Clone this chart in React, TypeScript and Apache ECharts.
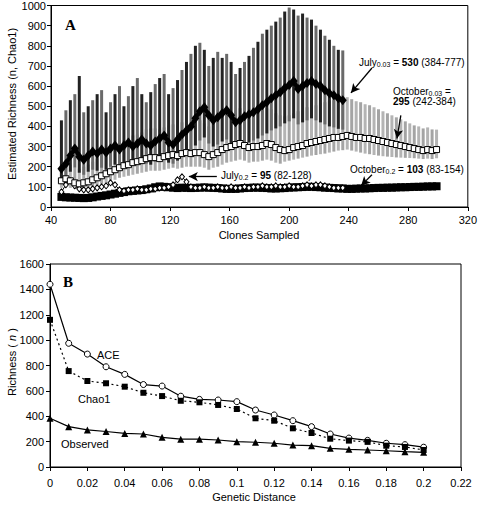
import React, { useEffect, useRef } from 'react';
import * as echarts from 'echarts';

const F = 'Liberation Sans';

// ---------- Panel A : rarefaction (Chao1) ----------
const julyX = [47,50,53,56,59,62,65,68,71,74,77,80,83,86,89,92,95,98,101,104,107,110,113,116,119,122,125,128,131,134,137,140,143,146,149,152,155,158,161,164,167,170,173,176,179,182,185,188,191,194,197,200,203,206,209,212,215,218,221,224,227,230,233,236];
const july03Mean = [190,215,255,290,250,235,255,275,265,285,270,290,305,285,305,320,300,315,335,315,305,325,340,355,320,310,335,360,380,400,440,475,495,455,430,445,465,480,455,420,430,450,460,470,485,505,520,540,555,570,590,605,625,585,600,615,625,610,600,580,565,555,540,530];
const july03High = [430,480,530,560,650,470,500,530,560,580,470,520,560,600,500,550,600,640,560,520,570,610,640,660,560,590,630,680,720,760,800,815,780,700,740,770,740,760,720,660,690,720,750,790,820,860,880,900,920,940,970,990,980,950,960,940,930,900,880,850,830,800,780,777];
const july03Low = [130,145,175,195,170,160,175,185,180,195,185,200,210,195,210,220,205,215,230,215,210,225,235,245,220,215,230,250,265,280,305,330,345,315,300,310,325,335,315,290,300,315,320,330,340,355,365,380,390,400,415,425,440,410,420,430,440,430,420,410,400,395,388,384];
const july02Mean = [75,110,130,105,90,85,85,90,95,100,105,120,110,85,80,85,85,90,85,85,90,90,95,95,100,110,135,150,125,100,95,95,100,95,95,100,95,95,100,95,95,100,95,100,100,105,100,100,105,100,100,105,100,100,105,110,105,110,110,105,100,95,95,95];

const octX = [47,50,53,56,59,62,65,68,71,74,77,80,83,86,89,92,95,98,101,104,107,110,113,116,119,122,125,128,131,134,137,140,143,146,149,152,155,158,161,164,167,170,173,176,179,182,185,188,191,194,197,200,203,206,209,212,215,218,221,224,227,230,233,236,239,242,245,248,251,254,257,260,263,266,269,272,275,278,281,284,287,290,293,296,299];
const oct03Mean = [130,140,130,120,115,120,125,135,145,155,165,175,185,195,205,210,220,225,230,240,245,245,240,250,255,260,255,265,270,265,270,270,260,250,260,270,285,295,300,310,315,305,295,300,300,305,315,310,295,285,280,285,295,300,305,315,320,325,330,335,340,345,345,350,355,350,345,345,340,340,335,330,325,320,315,310,305,300,295,290,285,280,285,280,285];
const oct03High = [200,215,210,195,190,200,210,225,240,255,270,285,300,315,330,340,355,360,370,385,390,390,385,395,405,410,405,420,425,420,425,430,415,400,415,430,450,460,470,480,490,480,465,470,470,480,490,485,465,455,450,455,465,475,480,495,500,505,515,520,525,530,535,540,545,535,525,520,510,505,495,485,475,465,455,445,435,425,415,405,400,390,395,385,384];
const oct03Low = [95,100,95,90,85,90,95,100,105,115,120,130,135,145,150,155,160,165,170,175,180,180,180,185,190,195,190,195,200,200,200,200,195,185,195,200,210,220,225,230,235,230,220,225,225,230,235,230,220,215,225,230,235,240,245,250,255,258,262,265,270,275,280,282,285,280,275,270,265,262,258,255,252,250,248,246,245,244,243,242,240,238,240,238,242];
const oct02Mean = [50,48,47,46,45,44,45,48,52,55,58,62,66,70,74,78,80,82,84,88,92,98,102,100,98,96,94,96,95,94,95,96,97,96,95,94,92,90,90,90,92,94,95,96,96,95,94,92,92,93,94,96,97,98,99,100,100,99,98,96,95,94,92,92,90,90,91,92,92,93,94,95,95,96,96,97,98,98,99,100,100,101,102,102,103];

// ---------- Panel B : richness vs genetic distance ----------
const distances = [0,0.01,0.02,0.03,0.04,0.05,0.06,0.07,0.08,0.09,0.1,0.11,0.12,0.13,0.14,0.15,0.16,0.17,0.18,0.19,0.2];
const aceValues = [1440,975,890,790,730,650,638,558,533,528,515,449,410,365,318,260,228,210,187,176,156];
const chao1Values = [1160,756,678,660,633,585,559,522,510,489,457,384,365,305,268,223,208,198,168,158,134];
const observedValues = [384,318,292,280,265,260,234,219,219,213,200,195,187,173,168,147,139,134,128,121,116];

const zip = (xs: number[], ...cols: number[][]) => xs.map((x, i) => [x, ...cols.map(c => c[i])]);

const errorBar = (colors: string[], width: number) => (p: any, api: any) => {
  const x = api.value(0);
  const lo = api.coord([x, api.value(1)]);
  const hi = api.coord([x, api.value(2)]);
  return {
    type: 'line',
    shape: { x1: lo[0], y1: lo[1], x2: hi[0], y2: hi[1] },
    style: { stroke: colors[p.dataIndex % colors.length], lineWidth: width },
  };
};

const axisCommon = {
  axisLine: { show: true, onZero: false, lineStyle: { color: '#000', width: 1 } },
  axisTick: { show: true, inside: false, length: 4, lineStyle: { color: '#000' } },
  splitLine: { show: false },
};

const plain = (v: number) => String(Math.round(v * 1000) / 1000);

const rich = {
  n: { fontSize: 10, fontFamily: F, color: '#000' },
  s: { fontSize: 7, fontFamily: F, color: '#000', verticalAlign: 'bottom', padding: [4, 0, 0, 0] },
  b: { fontSize: 10, fontFamily: F, fontWeight: 'bold', color: '#000' },
};

const txt = (x: number, y: number, text: string, extra: any = {}) => ({
  type: 'text',
  x,
  y,
  z: 100,
  style: { text, rich, fill: '#000', fontFamily: F, fontSize: 10, textVerticalAlign: 'middle', ...extra },
});

const plainTxt = (x: number, y: number, text: string, extra: any = {}) => ({
  type: 'text',
  x,
  y,
  z: 100,
  style: { text, fill: '#000', fontFamily: F, fontSize: 11, textVerticalAlign: 'middle', ...extra },
});

export default function App() {
  const ref = useRef<HTMLDivElement>(null);
  useEffect(() => {
    const chart = echarts.init(ref.current!, null, { renderer: 'svg' });
    const arrow = (a: number[], b: number[]) => [
      { coord: a, symbol: 'none' },
      { coord: b, symbol: 'arrow' },
    ];
    const lbl = (margin: number) => ({ color: '#000', fontSize: 11, fontFamily: F, margin, formatter: plain });
    const option: any = {
      animation: false,
      backgroundColor: '#fff',
      textStyle: { fontFamily: F },
      grid: [
        { left: 51, top: 4, width: 421, height: 203, show: true, borderColor: '#000', borderWidth: 1, backgroundColor: 'transparent' },
        { left: 50, top: 264, width: 411, height: 203, show: true, borderColor: '#000', borderWidth: 1, backgroundColor: 'transparent' },
      ],
      xAxis: [
        { ...axisCommon, gridIndex: 0, type: 'value', min: 40, max: 320, interval: 40, axisLabel: lbl(7) },
        { ...axisCommon, gridIndex: 1, type: 'value', min: 0, max: 0.22, interval: 0.02, axisLabel: lbl(10) },
      ],
      yAxis: [
        { ...axisCommon, gridIndex: 0, type: 'value', min: 0, max: 1000, interval: 100, axisLabel: lbl(5) },
        { ...axisCommon, gridIndex: 1, type: 'value', min: 0, max: 1600, interval: 200, axisLabel: lbl(6) },
      ],
      series: [
        {
          name: 'October 0.03 CI', type: 'custom', xAxisIndex: 0, yAxisIndex: 0, z: 1,
          renderItem: errorBar(['#b4b4b4', '#a4a4a4'], 3),
          data: zip(octX, oct03Low, oct03High),
          encode: { x: 0, y: [1, 2] },
        },
        {
          name: 'July 0.03 CI', type: 'custom', xAxisIndex: 0, yAxisIndex: 0, z: 2,
          renderItem: errorBar(['#222222', '#6a6a6a'], 3),
          data: zip(julyX, july03Low, july03High),
          encode: { x: 0, y: [1, 2] },
        },
        {
          name: 'October 0.2', type: 'line', xAxisIndex: 0, yAxisIndex: 0, z: 3,
          symbol: 'rect', symbolSize: 8, showSymbol: true,
          lineStyle: { color: '#000', width: 6 },
          itemStyle: { color: '#000' },
          data: zip(octX, oct02Mean),
          markLine: {
            silent: true, animation: false, symbolSize: [7, 9],
            label: { show: false },
            lineStyle: { color: '#000', width: 1.3, type: 'solid' },
            data: [
              arrow([255.6, 690], [241.5, 566]),
              arrow([275, 455], [272.4, 340]),
              arrow([151.4, 151], [132.6, 151]),
              arrow([255.6, 160], [248.3, 106]),
            ],
          },
        },
        {
          name: 'July 0.2', type: 'line', xAxisIndex: 0, yAxisIndex: 0, z: 4,
          symbol: 'diamond', symbolSize: [5, 6], showSymbol: true,
          lineStyle: { color: '#000', width: 1 },
          itemStyle: { color: '#fff', borderColor: '#000', borderWidth: 1 },
          data: zip(julyX, july02Mean),
        },
        {
          name: 'October 0.03', type: 'line', xAxisIndex: 0, yAxisIndex: 0, z: 5,
          symbol: 'rect', symbolSize: 6, showSymbol: true,
          lineStyle: { color: '#000', width: 1 },
          itemStyle: { color: '#fff', borderColor: '#000', borderWidth: 1 },
          data: zip(octX, oct03Mean),
        },
        {
          name: 'July 0.03', type: 'line', xAxisIndex: 0, yAxisIndex: 0, z: 6,
          symbol: 'diamond', symbolSize: [8, 10], showSymbol: true,
          lineStyle: { color: '#000', width: 4 },
          itemStyle: { color: '#000' },
          data: zip(julyX, july03Mean),
        },
        {
          name: 'ACE', type: 'line', xAxisIndex: 1, yAxisIndex: 1, z: 3,
          symbol: 'circle', symbolSize: 6, showSymbol: true,
          lineStyle: { color: '#000', width: 1.2 },
          itemStyle: { color: '#fff', borderColor: '#000', borderWidth: 1 },
          data: zip(distances, aceValues),
        },
        {
          name: 'Chao1', type: 'line', xAxisIndex: 1, yAxisIndex: 1, z: 3,
          symbol: 'rect', symbolSize: 6, showSymbol: true,
          lineStyle: { color: '#000', width: 1.2, type: [2, 3] },
          itemStyle: { color: '#000' },
          data: zip(distances, chao1Values),
        },
        {
          name: 'Observed', type: 'line', xAxisIndex: 1, yAxisIndex: 1, z: 3,
          symbol: 'triangle', symbolSize: 7, showSymbol: true,
          lineStyle: { color: '#000', width: 1.2 },
          itemStyle: { color: '#000' },
          data: zip(distances, observedValues),
        },
      ],
      graphic: [
        plainTxt(65, 25, 'A', { fontFamily: 'Liberation Serif', fontWeight: 'bold', fontSize: 15 }),
        plainTxt(63, 282, 'B', { fontFamily: 'Liberation Serif', fontWeight: 'bold', fontSize: 15 }),
        txt(359, 62, '{n|July}{s|0.03}{n| = }{b|530}{n| (384-777)}'),
        txt(393, 91, '{n|October}{s|0.03}{n| =}'),
        txt(393, 101, '{b|295}{n| (242-384)}'),
        txt(221, 175, '{n|July}{s|0.2}{n| = }{b|95}{n| (82-128)}'),
        txt(350, 169, '{n|October}{s|0.2}{n| = }{b|103}{n| (83-154)}'),
        plainTxt(259, 235, 'Clones Sampled', { textAlign: 'center' }),
        {
          type: 'text', x: 12, y: 104, rotation: Math.PI / 2, z: 100,
          style: { text: 'Estimated Richness (n, Chao1)', fill: '#000', fontFamily: F, fontSize: 11, textAlign: 'center', textVerticalAlign: 'middle' },
        },
        plainTxt(97, 355, 'ACE'),
        plainTxt(78, 399, 'Chao1'),
        plainTxt(61, 444, 'Observed'),
        plainTxt(254, 497, 'Genetic Distance', { textAlign: 'center' }),
        {
          type: 'text', x: 12, y: 362, rotation: Math.PI / 2, z: 100,
          style: {
            text: '{r|Richness ( }{i|n}{r| )}',
            rich: {
              r: { fontSize: 11, fontFamily: F, color: '#000' },
              i: { fontSize: 11, fontFamily: F, fontStyle: 'italic', color: '#000' },
            },
            fill: '#000', textAlign: 'center', textVerticalAlign: 'middle',
          },
        },
      ],
    };
    chart.setOption(option);
    return () => chart.dispose();
  }, []);
  return (
    <div
      ref={ref}
      style={{ position: 'fixed', left: 0, top: 0, width: 480, height: 506, fontFamily: 'Liberation Sans, sans-serif' }}
    />
  );
}
